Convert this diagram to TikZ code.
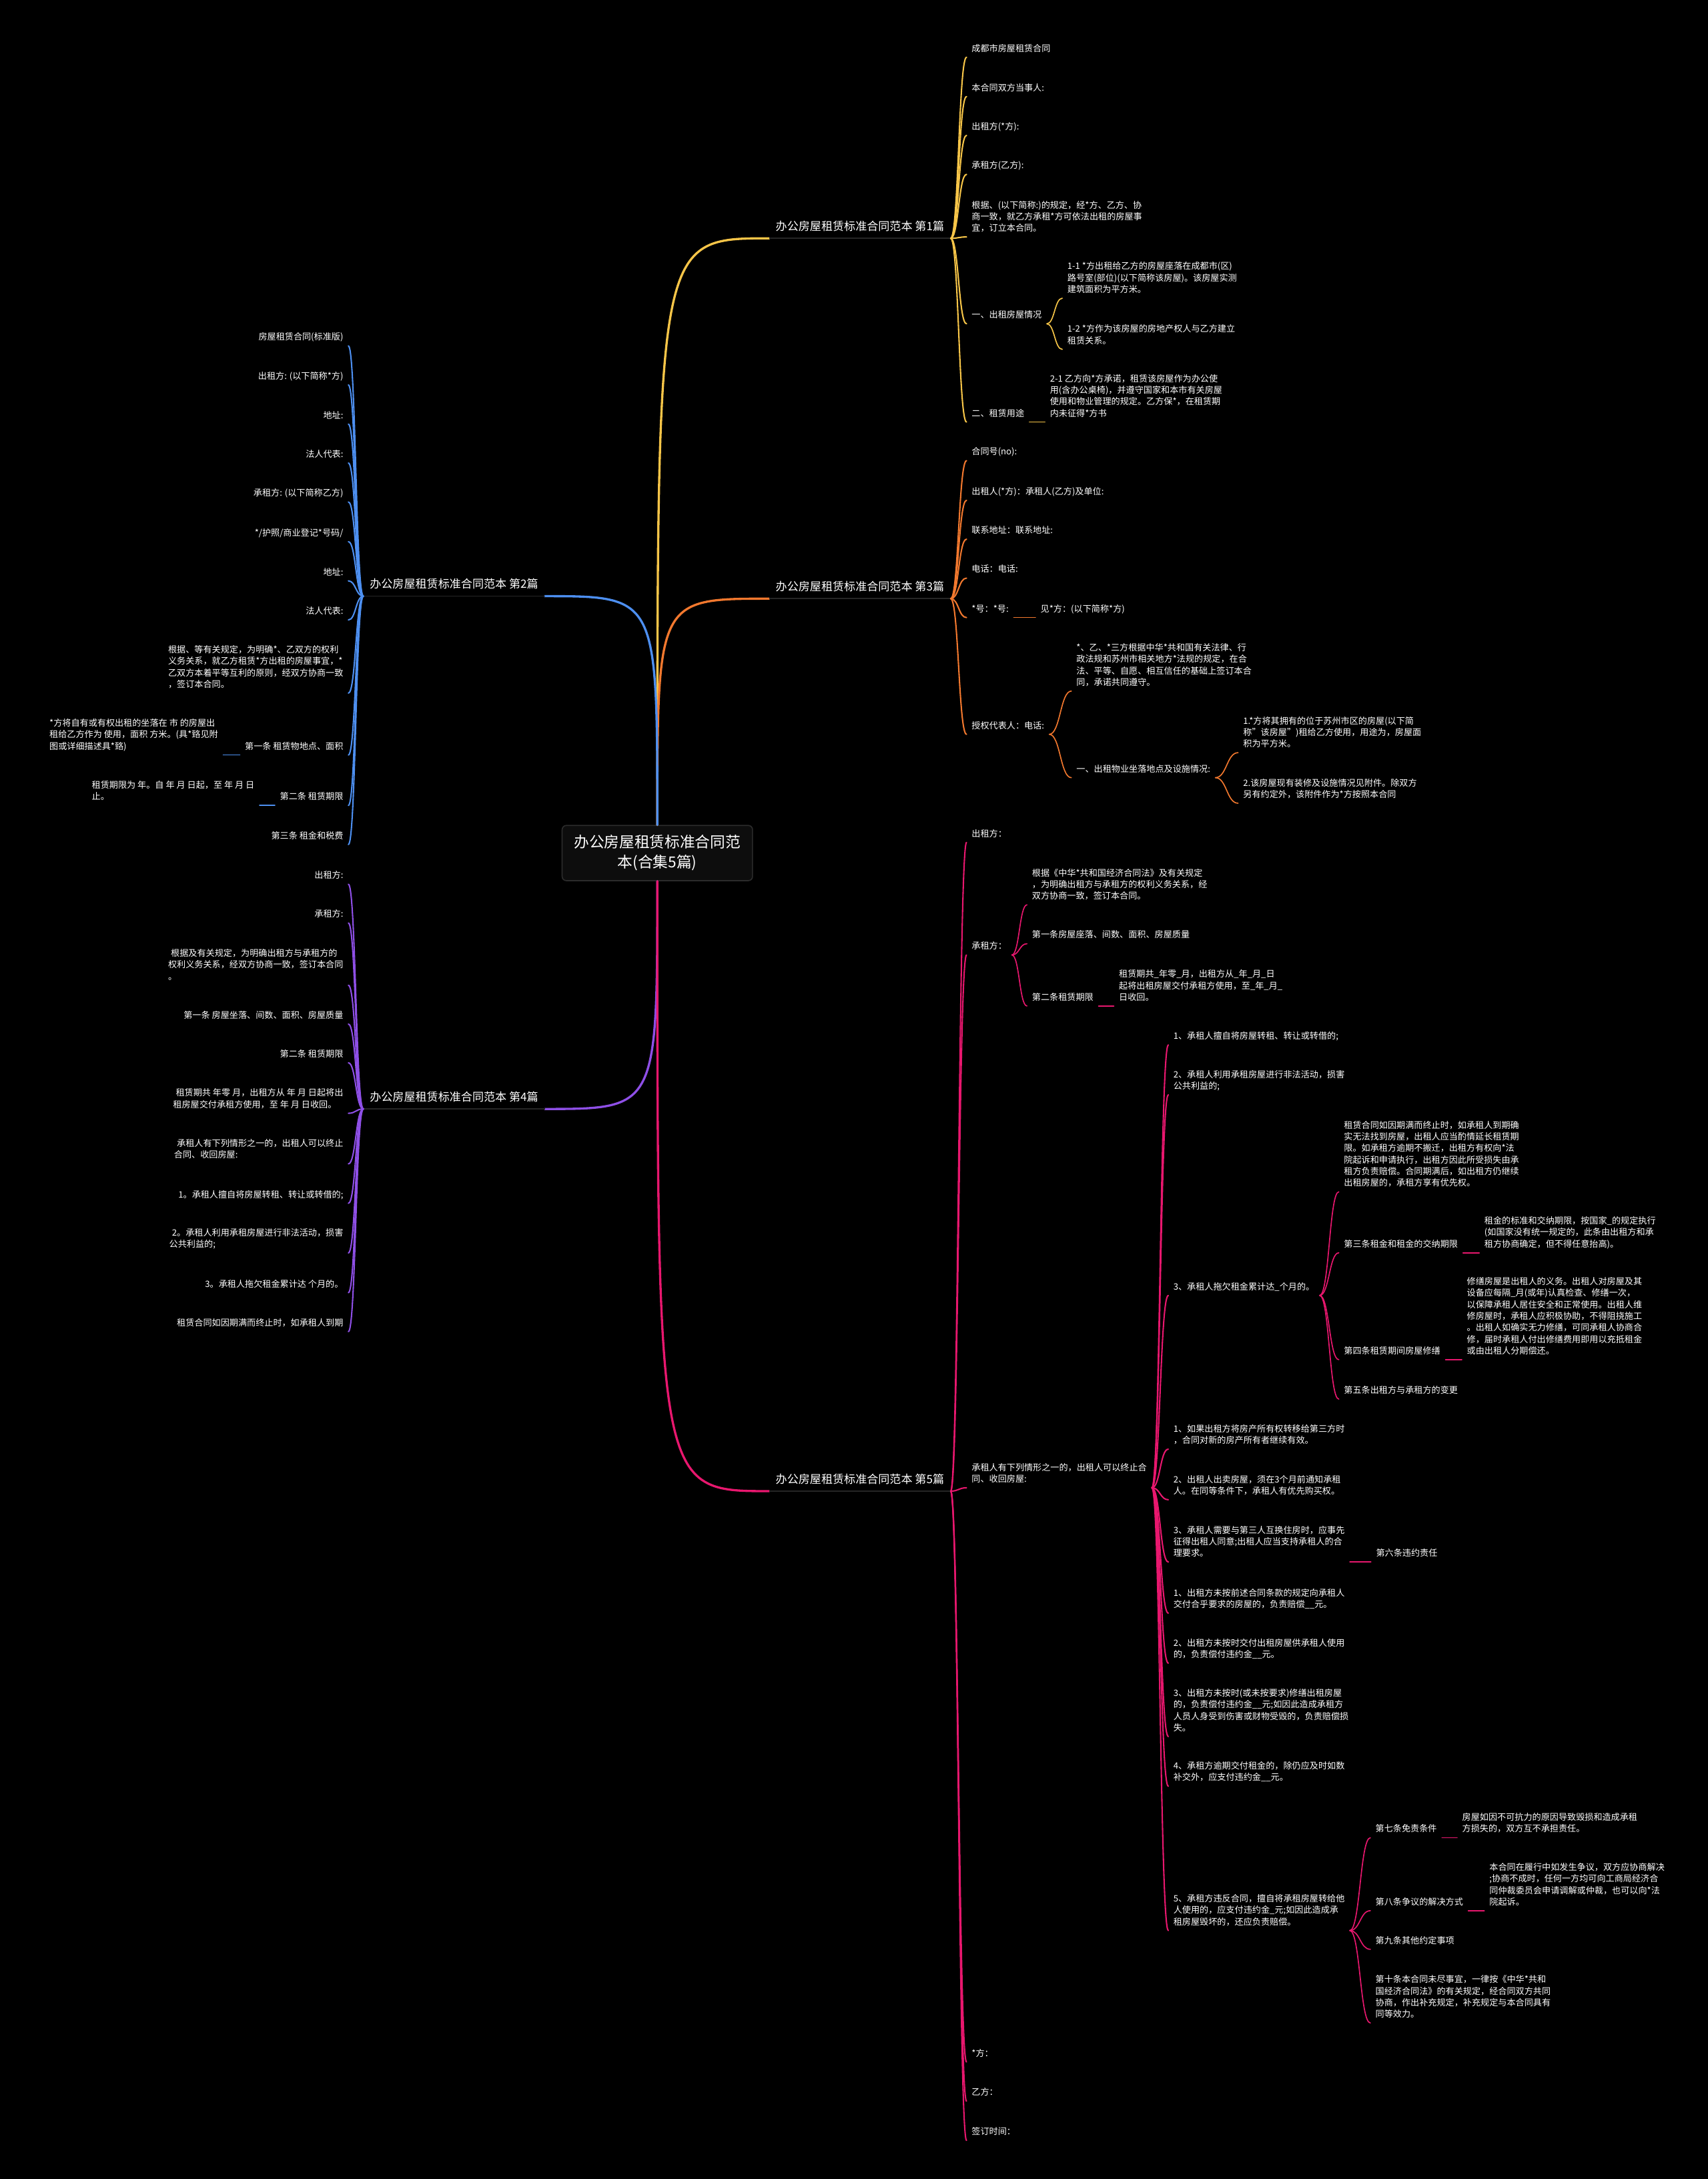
\documentclass[tikz,border=0pt]{standalone}
\usepackage{fontspec}
\setmainfont{Noto Sans CJK SC}
\usetikzlibrary{calc, positioning}
\definecolor{yel}{HTML}{F7C548}
\definecolor{blu}{HTML}{4D8FF0}
\definecolor{org}{HTML}{F2782E}
\definecolor{pur}{HTML}{8E4FE6}
\definecolor{pnk}{HTML}{E8176E}
\definecolor{rootfill}{HTML}{0D0D0D}
\definecolor{rootline}{HTML}{2B2B2B}
\definecolor{labline}{HTML}{262626}

\tikzset{
  leaf/.style={anchor=south west, text=white, font=\fontsize{6.3}{8.3}\selectfont, align=left,
    inner xsep=3.5pt, inner ysep=1.4pt, execute at end node=\strut},
  lleaf/.style={leaf, anchor=south east},
  branch/.style={anchor=south west, text=white, font=\fontsize{8.2}{10}\selectfont,
    inner xsep=4.5pt, inner ysep=2.5pt, execute at end node=\strut},
  lbranch/.style={branch, anchor=south east},
  root/.style={draw=rootline, fill=rootfill, rounded corners=3pt, line width=0.8pt,
    minimum width=137pt, minimum height=39.7pt, text=white, align=center,
    font=\fontsize{10.9}{14.4}\selectfont},
  link/.style={line width=1pt, line cap=round,
    to path={.. controls ($(\tikztostart)!0.5!(\tikztotarget|-\tikztostart)$) and ($(\tikztotarget)!0.5!(\tikztostart|-\tikztotarget)$) .. (\tikztotarget)}},
  sublink/.style={link, line width=0.8pt},
  stem/.style={line width=1.6pt, line cap=round,
    to path={.. controls (\tikztostart|-\tikztotarget) and (\tikztostart|-\tikztotarget) .. (\tikztotarget)}},
  labelline/.style={draw=labline, line width=0.8pt},
}

\begin{document}
\begin{tikzpicture}[x=1pt, y=-1pt]
    \fill[black] (0,0) rectangle (1229,1568);
    \useasboundingbox (0,0) rectangle (1229,1568);

    \node[root] (root) at (473,613.85) {办公房屋租赁标准合同范\\本(合集5篇)};

    % 第1篇
    \node[branch] (b1) at (553.5,171.5) {办公房屋租赁标准合同范本 第1篇};
    \node[leaf] (b1a) at (695.5,41.2) {成都市房屋租赁合同};
    \node[leaf] (b1b) at (695.5,69.5) {本合同双方当事人:};
    \node[leaf] (b1c) at (695.5,97.4) {出租方(*方):};
    \node[leaf] (b1d) at (695.5,125.5) {承租方(乙方):};
    \node[leaf] (b1e) at (695.5,170.5) {根据、(以下简称:)的规定，经*方、乙方、协\\商一致，就乙方承租*方可依法出租的房屋事\\宜，订立本合同。};
    \node[leaf] (b1f) at (695.5,233) {一、出租房屋情况};
    \node[leaf] (b1f1) at (764.4,214.6) {1-1 *方出租给乙方的房屋座落在成都市(区)\\路号室(部位)(以下简称该房屋)。该房屋实测\\建筑面积为平方米。};
    \node[leaf] (b1f2) at (764.4,251.4) {1-2 *方作为该房屋的房地产权人与乙方建立\\租赁关系。};
    \node[leaf] (b1g) at (695.5,303.7) {二、租赁用途};
    \node[leaf] (b1g1) at (751.9,303.7) {2-1 乙方向*方承诺，租赁该房屋作为办公使\\用(含办公桌椅)，并遵守国家和本市有关房屋\\使用和物业管理的规定。乙方保*，在租赁期\\内未征得*方书};

    % 第3篇
    \node[branch] (b3) at (553.5,430.8) {办公房屋租赁标准合同范本 第3篇};
    \node[leaf] (b3a) at (695.5,331.5) {合同号(no):};
    \node[leaf] (b3b) at (695.5,360) {出租人(*方)：承租人(乙方)及单位:};
    \node[leaf] (b3c) at (695.5,388) {联系地址：联系地址:};
    \node[leaf] (b3d) at (695.5,416) {电话：电话:};
    \node[leaf] (b3e) at (695.5,444.4) {*号：*号:};
    \node[leaf] (b3e1) at (745.1,444.4) {见*方：(以下简称*方)};
    \node[leaf] (b3f) at (695.5,528.4) {授权代表人：电话:};
    \node[leaf] (b3f1) at (770.9,497.3) {*、乙、*三方根据中华*共和国有关法律、行\\政法规和苏州市相关地方*法规的规定，在合\\法、平等、自愿、相互信任的基础上签订本合\\同，承诺共同遵守。};
    \node[leaf] (b3f2) at (770.9,559.6) {一、出租物业坐落地点及设施情况:};
    \node[leaf] (b3f2a) at (890.9,541.6) {1.*方将其拥有的位于苏州市区的房屋(以下简\\称"该房屋")租给乙方使用，用途为，房屋面\\积为平方米。};
    \node[leaf] (b3f2b) at (890.9,578) {2.该房屋现有装修及设施情况见附件。除双方\\另有约定外，该附件作为*方按照本合同};

    % 第5篇
    \node[branch] (b5) at (553.5,1073) {办公房屋租赁标准合同范本 第5篇};
    \node[leaf] (b5a) at (695.5,606.2) {出租方：};
    \node[leaf] (b5b) at (695.5,687.2) {承租方：};
    \node[leaf] (b5b1) at (739,651.1) {根据《中华*共和国经济合同法》及有关规定\\，为明确出租方与承租方的权利义务关系，经\\双方协商一致，签订本合同。};
    \node[leaf] (b5b2) at (739,679.1) {第一条房屋座落、间数、面积、房屋质量};
    \node[leaf] (b5b3) at (739,723.9) {第二条租赁期限};
    \node[leaf] (b5b3a) at (801.5,723.9) {租赁期共\_年零\_月，出租方从\_年\_月\_日\\起将出租房屋交付承租方使用，至\_年\_月\_\\日收回。};
    \node[leaf] (b5c) at (695.5,1070.6) {承租人有下列情形之一的，出租人可以终止合\\同、收回房屋:};
    \node[leaf] (c1) at (840.7,751.9) {1、承租人擅自将房屋转租、转让或转借的;};
    \node[leaf] (c2) at (840.7,787.8) {2、承租人利用承租房屋进行非法活动，损害\\公共利益的;};
    \node[leaf] (c3) at (840.7,932.2) {3、承租人拖欠租金累计达\_个月的。};
    \node[leaf] (c3a) at (963.4,857.6) {租赁合同如因期满而终止时，如承租人到期确\\实无法找到房屋，出租人应当酌情延长租赁期\\限。如承租方逾期不搬迁，出租方有权向*法\\院起诉和申请执行，出租方因此所受损失由承\\租方负责赔偿。合同期满后，如出租方仍继续\\出租房屋的，承租方享有优先权。};
    \node[leaf] (c3b) at (963.4,901.5) {第三条租金和租金的交纳期限};
    \node[leaf] (c3b1) at (1064.5,901.5) {租金的标准和交纳期限，按国家\_的规定执行\\(如国家没有统一规定的，此条由出租方和承\\租方协商确定，但不得任意抬高)。};
    \node[leaf] (c3c) at (963.4,978.4) {第四条租赁期间房屋修缮};
    \node[leaf] (c3c1) at (1051.9,978.4) {修缮房屋是出租人的义务。出租人对房屋及其\\设备应每隔\_月(或年)认真检查、修缮一次，\\以保障承租人居住安全和正常使用。出租人维\\修房屋时，承租人应积极协助，不得阻挠施工\\。出租人如确实无力修缮，可同承租人协商合\\修，届时承租人付出修缮费用即用以充抵租金\\或由出租人分期偿还。};
    \node[leaf] (c3d) at (963.4,1006.8) {第五条出租方与承租方的变更};
    \node[leaf] (c4) at (840.7,1042.8) {1、如果出租方将房产所有权转移给第三方时\\，合同对新的房产所有者继续有效。};
    \node[leaf] (c5) at (840.7,1079.2) {2、出租人出卖房屋，须在3个月前通知承租\\人。在同等条件下，承租人有优先购买权。};
    \node[leaf] (c6) at (840.7,1124) {3、承租人需要与第三人互换住房时，应事先\\征得出租人同意;出租人应当支持承租人的合\\理要求。};
    \node[leaf] (c6a) at (986.5,1124) {第六条违约责任};
    \node[leaf] (c7) at (840.7,1160.8) {1、出租方未按前述合同条款的规定向承租人\\交付合乎要求的房屋的，负责赔偿\_\_元。};
    \node[leaf] (c8) at (840.7,1196.8) {2、出租方未按时交付出租房屋供承租人使用\\的，负责偿付违约金\_\_元。};
    \node[leaf] (c9) at (840.7,1249.6) {3、出租方未按时(或未按要求)修缮出租房屋\\的，负责偿付违约金\_\_元;如因此造成承租方\\人员人身受到伤害或财物受毁的，负责赔偿损\\失。};
    \node[leaf] (c10) at (840.7,1285.4) {4、承租方逾期交付租金的，除仍应及时如数\\补交外，应支付违约金\_\_元。};
    \node[leaf] (c11) at (840.7,1389.2) {5、承租方违反合同，擅自将承租房屋转给他\\人使用的，应支付违约金\_元;如因此造成承\\租房屋毁坏的，还应负责赔偿。};
    \node[leaf] (c11a) at (986.1,1322.4) {第七条免责条件};
    \node[leaf] (c11a1) at (1048.5,1322.4) {房屋如因不可抗力的原因导致毁损和造成承租\\方损失的，双方互不承担责任。};
    \node[leaf] (c11b) at (986.1,1374.9) {第八条争议的解决方式};
    \node[leaf] (c11b1) at (1068.1,1374.9) {本合同在履行中如发生争议，双方应协商解决\\;协商不成时，任何一方均可向工商局经济合\\同仲裁委员会申请调解或仲裁，也可以向*法\\院起诉。};
    \node[leaf] (c11c) at (986.1,1402.7) {第九条其他约定事项};
    \node[leaf] (c11d) at (986.1,1455.7) {第十条本合同未尽事宜，一律按《中华*共和\\国经济合同法》的有关规定，经合同双方共同\\协商，作出补充规定，补充规定与本合同具有\\同等效力。};
    \node[leaf] (b5d) at (695.5,1483.8) {*方：};
    \node[leaf] (b5e) at (695.5,1512) {乙方：};
    \node[leaf] (b5f) at (695.5,1540.2) {签订时间：};

    % 第2篇
    \node[lbranch] (b2) at (392,429) {办公房屋租赁标准合同范本 第2篇};
    \node[lleaf] (b2a) at (250.7,248.9) {房屋租赁合同(标准版)};
    \node[lleaf] (b2b) at (250.7,277) {出租方: (以下简称*方)};
    \node[lleaf] (b2c) at (250.7,305.2) {地址:};
    \node[lleaf] (b2d) at (250.7,333.2) {法人代表:};
    \node[lleaf] (b2e) at (250.7,361.2) {承租方: (以下简称乙方)};
    \node[lleaf] (b2f) at (250.7,389.8) {*/护照/商业登记*号码/};
    \node[lleaf] (b2g) at (250.7,418) {地址:};
    \node[lleaf] (b2h) at (250.7,446.1) {法人代表:};
    \node[lleaf] (b2i) at (250.7,498.8) {根据、等有关规定，为明确*、乙双方的权利\\义务关系，就乙方租赁*方出租的房屋事宜，*\\乙双方本着平等互利的原则，经双方协商一致\\，签订本合同。};
    \node[lleaf] (b2j) at (250.7,543.3) {第一条 租赁物地点、面积};
    \node[lleaf] (b2j1) at ([xshift=-12pt]b2j.south west) {*方将自有或有权出租的坐落在 市 的房屋出\\租给乙方作为 使用，面积 方米。(具*臵见附\\图或详细描述具*臵)};
    \node[lleaf] (b2k) at (250.7,579.6) {第二条 租赁期限};
    \node[lleaf] (b2k1) at ([xshift=-11pt]b2k.south west) {租赁期限为 年。自 年 月 日起，至 年 月 日\\止。};
    \node[lleaf] (b2l) at (250.7,607.7) {第三条 租金和税费};

    % 第4篇
    \node[lbranch] (b4) at (392,798) {办公房屋租赁标准合同范本 第4篇};
    \node[lleaf] (b4a) at (250.7,636.3) {出租方:};
    \node[lleaf] (b4b) at (250.7,664.2) {承租方:};
    \node[lleaf] (b4c) at (250.7,709) {\hspace*{2pt}根据及有关规定，为明确出租方与承租方的\\权利义务关系，经双方协商一致，签订本合同\\。};
    \node[lleaf] (b4d) at (250.7,736.9) {第一条 房屋坐落、间数、面积、房屋质量};
    \node[lleaf] (b4e) at (250.7,764.8) {第二条 租赁期限};
    \node[lleaf] (b4f) at (250.7,801.1) {\hspace*{2pt}租赁期共 年零 月，出租方从 年 月 日起将出\\租房屋交付承租方使用，至 年 月 日收回。};
    \node[lleaf] (b4g) at (250.7,837.5) {\hspace*{2pt}承租人有下列情形之一的，出租人可以终止\\合同、收回房屋:};
    \node[lleaf] (b4h) at (250.7,865.9) {1。承租人擅自将房屋转租、转让或转借的;};
    \node[lleaf] (b4i) at (250.7,901.6) {\hspace*{2pt}2。承租人利用承租房屋进行非法活动，损害\\公共利益的;};
    \node[lleaf] (b4j) at (250.7,930.2) {3。承租人拖欠租金累计达 个月的。};
    \node[lleaf] (b4k) at (250.7,958.2) {租赁合同如因期满而终止时，如承租人到期};

    % stems from the root
    \draw[stem, yel] (root.north) to (b1.south west);
    \draw[stem, org] (root.north) to (b3.south west);
    \draw[stem, blu] (root.north) to (b2.south east);
    \draw[stem, pur] (root.south) to (b4.south east);
    \draw[stem, pnk] (root.south) to (b5.south west);
    \foreach \br in {b1,b2,b3,b4,b5}
        \draw[labelline] (\br.south west) -- (\br.south east);

    % links
    \foreach \kid in {b1a,b1b,b1c,b1d,b1e,b1f,b1g}
        \draw[link, yel] (b1.south east) to (\kid.south west);
    \foreach \kid in {b1f1,b1f2}
        \draw[sublink, yel] (b1f.south east) to (\kid.south west);
    \draw[sublink, yel] (b1g.south east) to (b1g1.south west);

    \foreach \kid in {b3a,b3b,b3c,b3d,b3e,b3f}
        \draw[link, org] (b3.south east) to (\kid.south west);
    \draw[sublink, org] (b3e.south east) to (b3e1.south west);
    \foreach \kid in {b3f1,b3f2}
        \draw[sublink, org] (b3f.south east) to (\kid.south west);
    \foreach \kid in {b3f2a,b3f2b}
        \draw[sublink, org] (b3f2.south east) to (\kid.south west);

    \foreach \kid in {b5a,b5b,b5c,b5d,b5e,b5f}
        \draw[link, pnk] (b5.south east) to (\kid.south west);
    \foreach \kid in {b5b1,b5b2,b5b3}
        \draw[sublink, pnk] (b5b.south east) to (\kid.south west);
    \draw[sublink, pnk] (b5b3.south east) to (b5b3a.south west);
    \foreach \kid in {c1,c2,c3,c4,c5,c6,c7,c8,c9,c10,c11}
        \draw[link, pnk] (b5c.south east) to (\kid.south west);
    \foreach \kid in {c3a,c3b,c3c,c3d}
        \draw[sublink, pnk] (c3.south east) to (\kid.south west);
    \draw[sublink, pnk] (c3b.south east) to (c3b1.south west);
    \draw[sublink, pnk] (c3c.south east) to (c3c1.south west);
    \draw[sublink, pnk] (c6.south east) to (c6a.south west);
    \foreach \kid in {c11a,c11b,c11c,c11d}
        \draw[sublink, pnk] (c11.south east) to (\kid.south west);
    \draw[sublink, pnk] (c11a.south east) to (c11a1.south west);
    \draw[sublink, pnk] (c11b.south east) to (c11b1.south west);

    \foreach \kid in {b2a,b2b,b2c,b2d,b2e,b2f,b2g,b2h,b2i,b2j,b2k,b2l}
        \draw[link, blu] (b2.south west) to (\kid.south east);
    \draw[sublink, blu] (b2j.south west) to (b2j1.south east);
    \draw[sublink, blu] (b2k.south west) to (b2k1.south east);

    \foreach \kid in {b4a,b4b,b4c,b4d,b4e,b4f,b4g,b4h,b4i,b4j,b4k}
        \draw[link, pur] (b4.south west) to (\kid.south east);
\end{tikzpicture}
\end{document}
